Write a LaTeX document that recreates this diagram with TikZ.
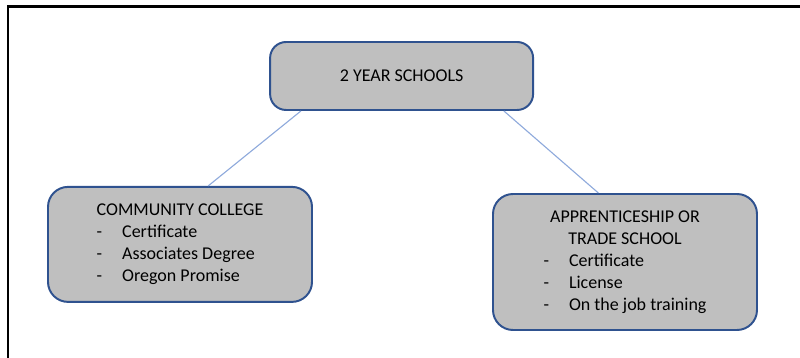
\documentclass[tikz,border=0pt]{standalone}
\usepackage{fontspec}
\setmainfont{Carlito}
\usetikzlibrary{calc}
\definecolor{boxgray}{RGB}{191,191,191}
\definecolor{boxblue}{RGB}{47,82,143}
\definecolor{linkblue}{RGB}{143,170,220}

\begin{document}
\begin{tikzpicture}[
		schoolbox/.style={draw=boxblue, line width=1.4pt, fill=boxgray, rounded corners=0.5cm, align=center, inner sep=0pt, font=\fontsize{12.8}{15.6}\selectfont},
		link/.style={draw=linkblue, line width=0.8pt}
	]
			%%%%% START %%%%%
			
			\useasboundingbox (0, 0) rectangle (20, 8.95);
			\draw[line width=1.8pt] (0.2, 0) -- (0.2, 8.79) -- (20, 8.79);
			
			\node[schoolbox, rounded corners=0.4cm, minimum width=6.575cm, minimum height=1.7cm] (top) at (10.04, 7.05) {2 YEAR SCHOOLS};
			
			\node[schoolbox, minimum width=6.6cm, minimum height=2.875cm] (cc) at (4.5, 2.84) {%
				\begin{tabular}{@{}l@{\hspace{0.5cm}}l@{}}
					\multicolumn{2}{@{}c@{}}{COMMUNITY COLLEGE}\\
					-& Certificate\\
					-& Associates Degree\\
					-& Oregon Promise
				\end{tabular}};
			
			\node[schoolbox, minimum width=6.6cm, minimum height=3.4cm] (trade) at (15.625, 2.4) {%
				\begin{tabular}{@{}l@{\hspace{0.5cm}}l@{}}
					\multicolumn{2}{@{}c@{}}{APPRENTICESHIP OR}\\
					\multicolumn{2}{@{}c@{}}{TRADE SCHOOL}\\
					-& Certificate\\
					-& License\\
					-& On the job training
				\end{tabular}};
			
			\draw[link] ($(top.south west)!0.12!(top.south east)$) -- ($(cc.north west)!0.606!(cc.north east)$);
			\draw[link] ($(top.south west)!0.886!(top.south east)$) -- ($(trade.north west)!0.40!(trade.north east)$);
			
			%%%%% END %%%%%
		\end{tikzpicture}
\end{document}
